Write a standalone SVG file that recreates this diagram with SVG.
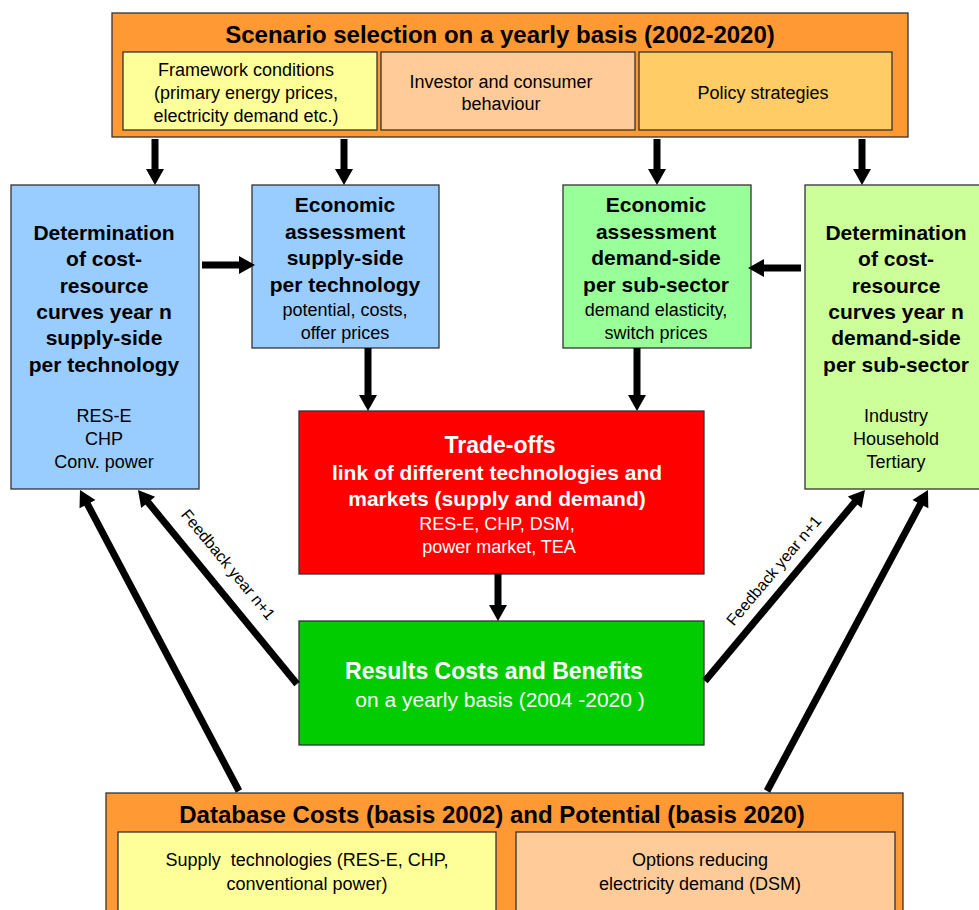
<svg xmlns="http://www.w3.org/2000/svg" width="979" height="910" viewBox="0 0 979 910">
<style>
text{font-family:"Liberation Sans",Arial,sans-serif;text-anchor:middle;fill:#000}
.b{font-weight:bold;font-size:21px}
.r{font-size:18px}
.t{font-weight:bold;font-size:24px}
.w{fill:#fff}
.box{stroke:#333;stroke-width:1.3}
.arr{stroke:#000;stroke-width:7;fill:none;marker-end:url(#ah)}
</style>
<defs>
<marker id="ah" markerUnits="userSpaceOnUse" markerWidth="16" markerHeight="18" refX="4" refY="9" orient="auto" overflow="visible">
<path d="M0,0 L16,9 L0,18 z" fill="#000"/>
</marker>
</defs>
<rect width="979" height="910" fill="#fff"/>

<g id="scenario">
<rect class="box" x="112" y="13" width="796" height="124" fill="#FF9933"/>
<text class="t" x="500" y="43">Scenario selection on a yearly basis (2002-2020)</text>
<rect class="box" x="123" y="52" width="254" height="78" fill="#FFFF99"/>
<text class="r" x="246" y="76">Framework conditions</text>
<text class="r" x="246" y="99">(primary energy prices,</text>
<text class="r" x="246" y="122">electricity demand etc.)</text>
<rect class="box" x="381" y="52" width="254" height="78" fill="#FFCC99"/>
<text class="r" x="501" y="88">Investor and consumer</text>
<text class="r" x="501" y="110">behaviour</text>
<rect class="box" x="639" y="52" width="253" height="78" fill="#FFCC66"/>
<text class="r" x="763" y="99">Policy strategies</text>
</g>

<g id="supply-curves">
<rect class="box" x="11" y="185" width="188" height="304" fill="#99CCFF"/>
<text class="b" x="104" y="240">Determination</text>
<text class="b" x="104" y="266">of cost-</text>
<text class="b" x="104" y="293">resource</text>
<text class="b" x="104" y="319">curves year n</text>
<text class="b" x="104" y="345">supply-side</text>
<text class="b" x="104" y="372">per technology</text>
<text class="r" x="104" y="422">RES-E</text>
<text class="r" x="104" y="445">CHP</text>
<text class="r" x="104" y="468">Conv. power</text>
</g>

<g id="supply-assessment">
<rect class="box" x="252" y="185" width="187" height="163" fill="#99CCFF"/>
<text class="b" x="345" y="212">Economic</text>
<text class="b" x="345" y="239">assessment</text>
<text class="b" x="345" y="265">supply-side</text>
<text class="b" x="345" y="292">per technology</text>
<text class="r" x="345" y="316">potential, costs,</text>
<text class="r" x="345" y="339">offer prices</text>
</g>

<g id="demand-assessment">
<rect class="box" x="563" y="185" width="188" height="163" fill="#99FF99"/>
<text class="b" x="656" y="212">Economic</text>
<text class="b" x="656" y="239">assessment</text>
<text class="b" x="656" y="265">demand-side</text>
<text class="b" x="656" y="292">per sub-sector</text>
<text class="r" x="656" y="316">demand elasticity,</text>
<text class="r" x="656" y="339">switch prices</text>
</g>

<g id="demand-curves">
<rect class="box" x="805" y="185" width="190" height="304" fill="#CCFF99"/>
<text class="b" x="896" y="240">Determination</text>
<text class="b" x="896" y="266">of cost-</text>
<text class="b" x="896" y="293">resource</text>
<text class="b" x="896" y="319">curves year n</text>
<text class="b" x="896" y="345">demand-side</text>
<text class="b" x="896" y="372">per sub-sector</text>
<text class="r" x="896" y="422">Industry</text>
<text class="r" x="896" y="445">Household</text>
<text class="r" x="896" y="468">Tertiary</text>
</g>

<g id="tradeoffs">
<rect class="box" x="299" y="411" width="405" height="163" fill="#FF0000"/>
<text class="b w" x="500" y="453" style="font-size:23px">Trade-offs</text>
<text class="b w" x="497" y="480">link of different technologies and</text>
<text class="b w" x="497" y="506">markets (supply and demand)</text>
<text class="r w" x="497" y="530">RES-E, CHP, DSM,</text>
<text class="r w" x="499" y="553">power market, TEA</text>
</g>

<g id="results">
<rect class="box" x="299" y="621" width="405" height="124" fill="#00CC00"/>
<text class="w" x="494" y="679" style="font-weight:bold;font-size:23px">Results Costs and Benefits</text>
<text class="w" x="500" y="707" style="font-size:21px">on a yearly basis (2004 -2020 )</text>
</g>

<g id="database">
<rect class="box" x="106" y="793" width="797" height="130" fill="#FF9933"/>
<text class="t" x="492" y="823">Database Costs (basis 2002) and Potential (basis 2020)</text>
<rect class="box" x="118" y="832" width="378" height="90" fill="#FFFF99"/>
<text class="r" x="307" y="866">Supply&#160; technologies (RES-E, CHP,</text>
<text class="r" x="307" y="890">conventional power)</text>
<rect class="box" x="516" y="832" width="379" height="90" fill="#FFCC99"/>
<text class="r" x="700" y="866">Options reducing</text>
<text class="r" x="700" y="890">electricity demand (DSM)</text>
</g>

<g id="connectors">
<line class="arr" x1="155" y1="139" x2="155" y2="173"/>
<line class="arr" x1="344" y1="139" x2="344" y2="173"/>
<line class="arr" x1="657" y1="139" x2="657" y2="173"/>
<line class="arr" x1="862" y1="139" x2="862" y2="173"/>
<line class="arr" x1="202" y1="265" x2="243" y2="265"/>
<line class="arr" x1="801" y1="268" x2="760" y2="268"/>
<line class="arr" x1="368" y1="348" x2="368" y2="399"/>
<line class="arr" x1="637" y1="348" x2="637" y2="399"/>
<line class="arr" x1="498" y1="573" x2="498" y2="609"/>
<line class="arr" x1="297" y1="684" x2="145.6" y2="499.3"/>
<line class="arr" x1="239" y1="791" x2="85.6" y2="500.6"/>
<line class="arr" x1="705" y1="681" x2="857.3" y2="499.2"/>
<line class="arr" x1="767" y1="791" x2="922.3" y2="500.6"/>
<text style="font-size:16px" x="224" y="568" transform="rotate(50.5 224 568)">Feedback year n+1</text>
<text style="font-size:16px" x="778" y="574" transform="rotate(-50 778 574)">Feedback year n+1</text>
</g>
</svg>
